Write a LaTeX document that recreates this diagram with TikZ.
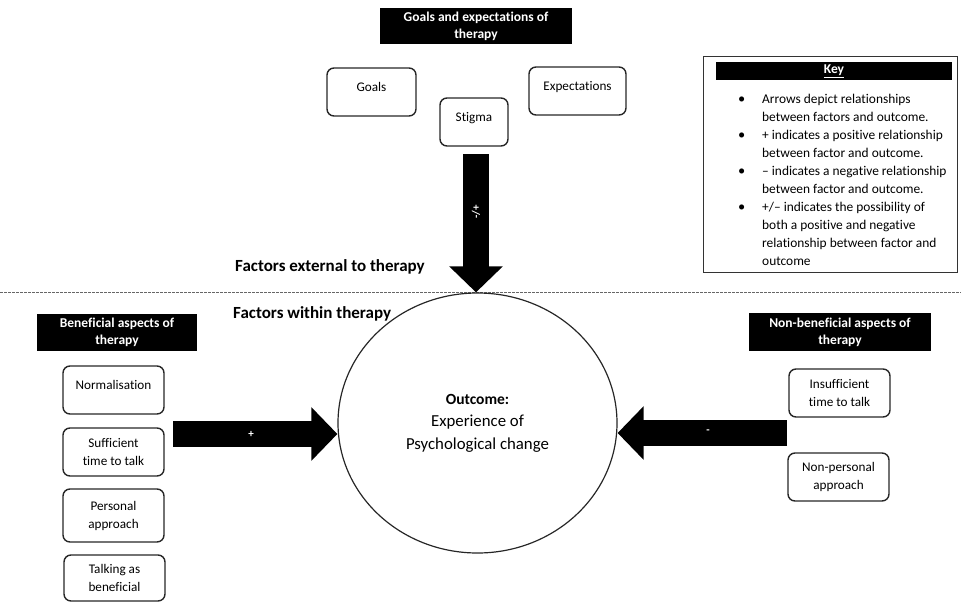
\documentclass[tikz,border=0pt]{standalone}
\usepackage{fontspec}
\setmainfont{Carlito}[Ligatures=NoCommon]
\usetikzlibrary{shapes.geometric,arrows.meta}
\begin{document}
\begin{tikzpicture}[x=1pt,y=-1pt,
  hdr/.style={fill=black,text=white,font=\fontsize{13.5}{17}\selectfont\bfseries,align=center,inner sep=0pt},
  fbox/.style={draw=black!85,line width=1.4pt,rounded corners=7pt,align=center,inner sep=0pt,font=\fontsize{13.2}{18}\selectfont},
  blk/.style={line width=26pt,-{Triangle[length=26pt,width=52pt]}},
  lbl/.style={text=white,font=\fontsize{11}{13}\selectfont\bfseries,inner sep=0pt},
  sect/.style={font=\fontsize{17}{20}\selectfont\bfseries,anchor=west,inner sep=0pt}]
\useasboundingbox (0,0) rectangle (961,602);

% separator
\draw[black!60,line width=0.8pt,dash pattern=on 2.5pt off 1.5pt] (0,292) -- (961,292);

% top group
\node[hdr,minimum width=192pt,minimum height=36pt] (thdr) at (476,26) {Goals and expectations of\\therapy};
\node[fbox,minimum width=89pt,minimum height=48pt] (goals) at (371.5,92) {Goals\\[-8pt]\mbox{}};
\node[fbox,minimum width=68pt,minimum height=48pt] (stigma) at (474,122) {Stigma\\[-8pt]\mbox{}};
\node[fbox,minimum width=97pt,minimum height=48pt] (expect) at (577.5,91) {Expectations\\[-8pt]\mbox{}};

% key
\node[draw=black!80,line width=1pt,minimum width=254pt,minimum height=215pt,inner sep=0pt] (keybox) at (830,164.5) {};
\node[hdr,minimum width=236pt,minimum height=18pt] (keyhdr) at (834,71) {\underline{Key}};
\node[anchor=north west,inner sep=0pt,font=\fontsize{13.4}{18}\selectfont] (keytxt) at (737,91) {%
  \begin{tabular}{@{}p{25pt}@{}l@{}}
  \hspace{1pt}{\Large\textbullet} & Arrows depict relationships\\
   & between factors and outcome.\\
  \hspace{1pt}{\Large\textbullet} & + indicates a positive relationship\\
   & between factor and outcome.\\
  \hspace{1pt}{\Large\textbullet} & – indicates a negative relationship\\
   & between factor and outcome.\\
  \hspace{1pt}{\Large\textbullet} & +/– indicates the possibility of\\
   & both a positive and negative\\
   & relationship between factor and\\
   & outcome
  \end{tabular}};

% section labels
\node[sect] (ext) at (235,267) {Factors external to therapy};
\node[sect] (within) at (233,314) {Factors within therapy};

% outcome
\node[ellipse,draw=black!85,line width=1.2pt,minimum width=279pt,minimum height=260pt,inner sep=0pt,align=center,font=\fontsize{16.8}{22.5}\selectfont] (circ) at (477.5,423) {{\fontsize{15.5}{22.5}\selectfont\bfseries Outcome:}\\Experience of\\Psychological change};

% beneficial
\node[hdr,minimum width=160pt,minimum height=37pt] (lhdr) at (117,332.5) {Beneficial aspects of\\therapy};
\node[fbox,minimum width=101pt,minimum height=48pt] (norm) at (113.5,390) {Normalisation\\[-8pt]\mbox{}};
\node[fbox,minimum width=101pt,minimum height=48pt] (suff) at (113.5,452) {Sufficient\\time to talk};
\node[fbox,minimum width=101pt,minimum height=53pt] (pers) at (113.5,515.5) {Personal\\approach};
\node[fbox,minimum width=101pt,minimum height=46pt] (talk) at (114.5,578) {Talking as\\beneficial};

% non-beneficial
\node[hdr,minimum width=182pt,minimum height=38pt] (rhdr) at (840,332) {Non-beneficial aspects of\\therapy};
\node[fbox,minimum width=101pt,minimum height=48pt] (insuff) at (839.5,393) {Insufficient\\time to talk};
\node[fbox,minimum width=101pt,minimum height=48pt] (nonpers) at (838.5,477) {Non-personal\\approach};

% arrows
\coordinate (ds) at (476,154);
\draw[blk] (ds) -- (ds |- circ.north);
\node[lbl,rotate=90] (dlbl) at (476,212) {-/+};
\coordinate (ls) at (173,434);
\draw[blk] (ls) -- (ls -| circ.west);
\node[lbl] (plbl) at (251,434) {+};
\coordinate (rs) at (787,433);
\draw[blk] (rs) -- (rs -| circ.east);
\node[lbl] (mlbl) at (708,432) {-};
\end{tikzpicture}
\end{document}
